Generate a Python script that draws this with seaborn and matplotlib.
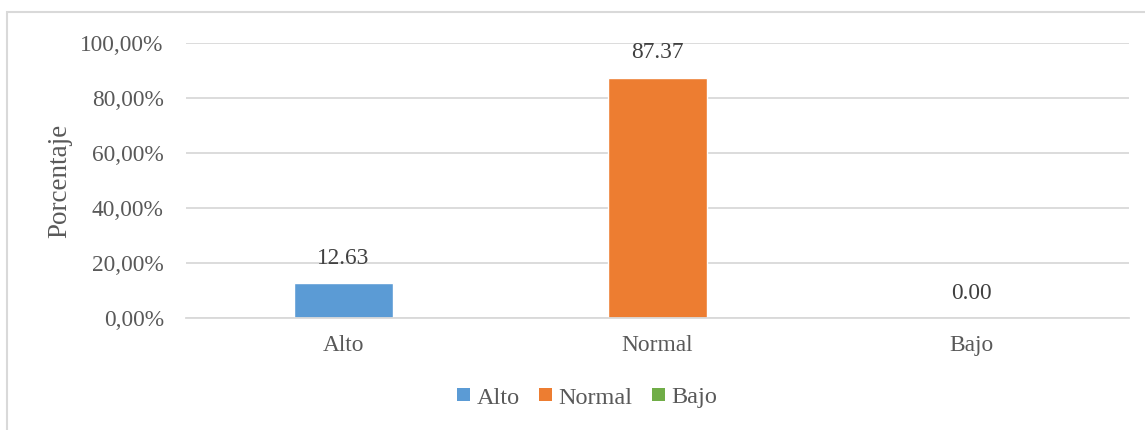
import numpy as np
import pandas as pd
import matplotlib
matplotlib.use('Agg')
import matplotlib.pyplot as plt
import seaborn as sns
from matplotlib.ticker import FuncFormatter
from matplotlib.patches import Patch, Rectangle

# 데이터
categorias = ['Alto', 'Normal', 'Bajo']
porcentajes = [12.63, 87.37, 0.00]
colores = ['#5B9BD5', '#ED7D31', '#70AD47']

sns.set_theme(style='white')
plt.rcParams['font.family'] = ['Liberation Serif', 'DejaVu Serif']
texto = '#595959'
gris = '#D9D9D9'

df = pd.DataFrame({'cat': categorias, 'val': np.array(porcentajes) / 100})

fig = plt.figure(figsize=(11.45, 4.30), dpi=100)
ax = fig.add_axes([186 / 1145, 1 - 318 / 430, (1129 - 186) / 1145, 275 / 430])

sns.barplot(data=df, x='cat', y='val', hue='cat', palette=colores,
            width=0.315, legend=False, ax=ax, saturation=1)

ax.set_ylim(0, 1)
ax.set_xlim(-0.5, 2.5)
ax.set_yticks(np.arange(0, 1.01, 0.2))
ax.yaxis.set_major_formatter(FuncFormatter(lambda v, p: f'{v*100:.2f}%'.replace('.', ',')))
ax.grid(axis='y', color=gris, linewidth=1.3)
ax.set_axisbelow(True)
for s in ['top', 'right', 'left']:
    ax.spines[s].set_visible(False)
ax.spines['bottom'].set_color(gris)
ax.spines['bottom'].set_linewidth(1.3)
ax.tick_params(axis='both', length=0, labelsize=16.8, colors=texto)
ax.tick_params(axis='y', pad=16)
ax.tick_params(axis='x', pad=12)
ax.set_xlabel('')
ax.set_ylabel('Porcentaje', fontsize=19.5, color=texto, labelpad=6)

# 값 라벨
for i, v in enumerate(porcentajes):
    ax.text(i, v / 100 + 0.09, f'{v:.2f}', ha='center', va='center',
            fontsize=16.8, color='#404040')

handles = [Patch(facecolor=c, edgecolor='none') for c in colores]
fig.legend(handles, categorias, loc='center', bbox_to_anchor=(587 / 1145, 1 - 398 / 430),
           ncol=3, frameon=False, fontsize=17.5, labelcolor=texto,
           handlelength=0.55, handleheight=0.45, handletextpad=0.25, columnspacing=0.8)

# 차트 테두리
fig.patches.append(Rectangle((7 / 1145, -0.1), 1.2, 1 - 12 / 430 + 0.1,
                             transform=fig.transFigure, fill=False,
                             edgecolor=gris, linewidth=1.5))

fig.savefig('out.png', dpi=100, facecolor='white')
